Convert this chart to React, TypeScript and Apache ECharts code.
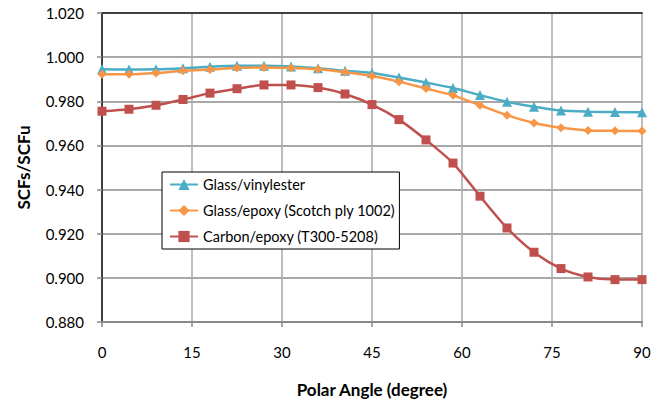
import React, { useEffect, useRef } from "react";
import * as echarts from "echarts";

const angles = [0, 4.5, 9, 13.5, 18, 22.5, 27, 31.5, 36, 40.5, 45, 49.5, 54, 58.5, 63, 67.5, 72, 76.5, 81, 85.5, 90];
const glassVinyl = [0.9945, 0.9944, 0.9945, 0.995, 0.9957, 0.9961, 0.9961, 0.9958, 0.995, 0.9938, 0.9928, 0.9908, 0.9885, 0.986, 0.9828, 0.9798, 0.9775, 0.9758, 0.9753, 0.9751, 0.975];
const glassEpoxy = [0.9922, 0.9922, 0.9928, 0.9938, 0.9944, 0.9951, 0.9953, 0.9951, 0.9945, 0.9932, 0.9915, 0.9889, 0.9858, 0.9827, 0.9782, 0.9737, 0.9702, 0.968, 0.9668, 0.9666, 0.9665];
const carbonEpoxy = [0.9755, 0.9764, 0.9782, 0.9808, 0.9837, 0.9857, 0.9874, 0.9874, 0.9862, 0.9833, 0.9785, 0.9717, 0.9625, 0.952, 0.937, 0.9226, 0.9116, 0.9042, 0.9004, 0.8992, 0.8992];
const seriesNames = ["Glass/vinylester", "Glass/epoxy (Scotch ply 1002)", "Carbon/epoxy (T300-5208)"];
const xTicks = [0, 15, 30, 45, 60, 75, 90];
const yTicks = [0.88, 0.9, 0.92, 0.94, 0.96, 0.98, 1.0, 1.02];

const FONT = "Lato";

export default function App() {
  const ref = useRef<HTMLDivElement>(null);
  useEffect(() => {
    if (!ref.current) return;
    const chart = echarts.init(ref.current, null, { renderer: "svg" });
    const mk = (vals: number[]) => angles.map((a, i) => [a, vals[i]]);
    const colors = ["#4BACC6", "#F79646", "#C0504D"];
    const symbols = ["triangle", "diamond", "rect"];
    const sizes = [10, 9, 9];
    const all = [glassVinyl, glassEpoxy, carbonEpoxy];
    const option = {
      animation: false,
      textStyle: { fontFamily: FONT },
      grid: { left: 102, right: 22, top: 13, bottom: 84, containLabel: false },
      legend: {
        show: true,
        orient: "vertical",
        left: 162,
        top: 172,
        data: seriesNames,
        itemWidth: 28,
        itemHeight: 14,
        itemGap: 11,
        padding: [5, 4, 5, 7],
        backgroundColor: "#ffffff",
        borderColor: "#000000",
        borderWidth: 1,
        borderRadius: 0,
        textStyle: { fontFamily: FONT, fontSize: 14.5, color: "#000" },
      },
      xAxis: [
        {
          type: "value",
          min: xTicks[0],
          max: xTicks[xTicks.length - 1],
          interval: 15,
          name: "Polar Angle (degree)",
          nameLocation: "middle",
          nameGap: 59,
          nameTextStyle: { fontFamily: FONT, fontSize: 17, fontWeight: "bold", color: "#000" },
          axisLine: { show: true, lineStyle: { color: "#8a8a8a", width: 2 } },
          axisTick: { show: true, length: 5, lineStyle: { color: "#8a8a8a", width: 1.5 } },
          axisLabel: { margin: 22, fontFamily: FONT, fontSize: 15, color: "#000" },
          splitLine: { show: true, lineStyle: { color: "#a8a8a8", width: 1.5 } },
        },
        {
          type: "value",
          position: "top",
          min: 0,
          max: 90,
          axisLine: { show: true, lineStyle: { color: "#404040", width: 2 } },
          axisTick: { show: false },
          axisLabel: { show: false },
          splitLine: { show: false },
        },
      ],
      yAxis: [
        {
          type: "value",
          min: yTicks[0],
          max: yTicks[yTicks.length - 1],
          interval: 0.02,
          name: "SCFs/SCFu",
          nameLocation: "middle",
          nameGap: 70,
          nameTextStyle: { fontFamily: FONT, fontSize: 17, fontWeight: "bold", color: "#000" },
          axisLine: { show: true, lineStyle: { color: "#8a8a8a", width: 2 } },
          axisTick: { show: true, length: 5, lineStyle: { color: "#8a8a8a", width: 1.5 } },
          axisLabel: {
            margin: 18,
            fontFamily: FONT,
            fontSize: 15,
            color: "#000",
            formatter: (v: number) => v.toFixed(3),
          },
          splitLine: { show: true, lineStyle: { color: "#8c8c8c", width: 1.5 } },
        },
        {
          type: "value",
          position: "right",
          min: yTicks[0],
          max: yTicks[yTicks.length - 1],
          axisLine: { show: true, lineStyle: { color: "#404040", width: 2 } },
          axisTick: { show: false },
          axisLabel: { show: false },
          splitLine: { show: false },
        },
      ],
      series: all.map((vals, i) => ({
        name: seriesNames[i],
        type: "line",
        xAxisIndex: 0,
        yAxisIndex: 0,
        data: mk(vals),
        smooth: 0.25,
        symbol: symbols[i],
        symbolSize: sizes[i],
        showAllSymbol: true,
        lineStyle: { color: colors[i], width: 2.5 },
        itemStyle: { color: colors[i] },
        z: 3 + i,
      })),
    };
    chart.setOption(option as any);
    return () => chart.dispose();
  }, []);
  return (
    <div
      ref={ref}
      style={{ position: "fixed", left: 0, top: 0, width: 664, height: 406, background: "#fff" }}
    />
  );
}
